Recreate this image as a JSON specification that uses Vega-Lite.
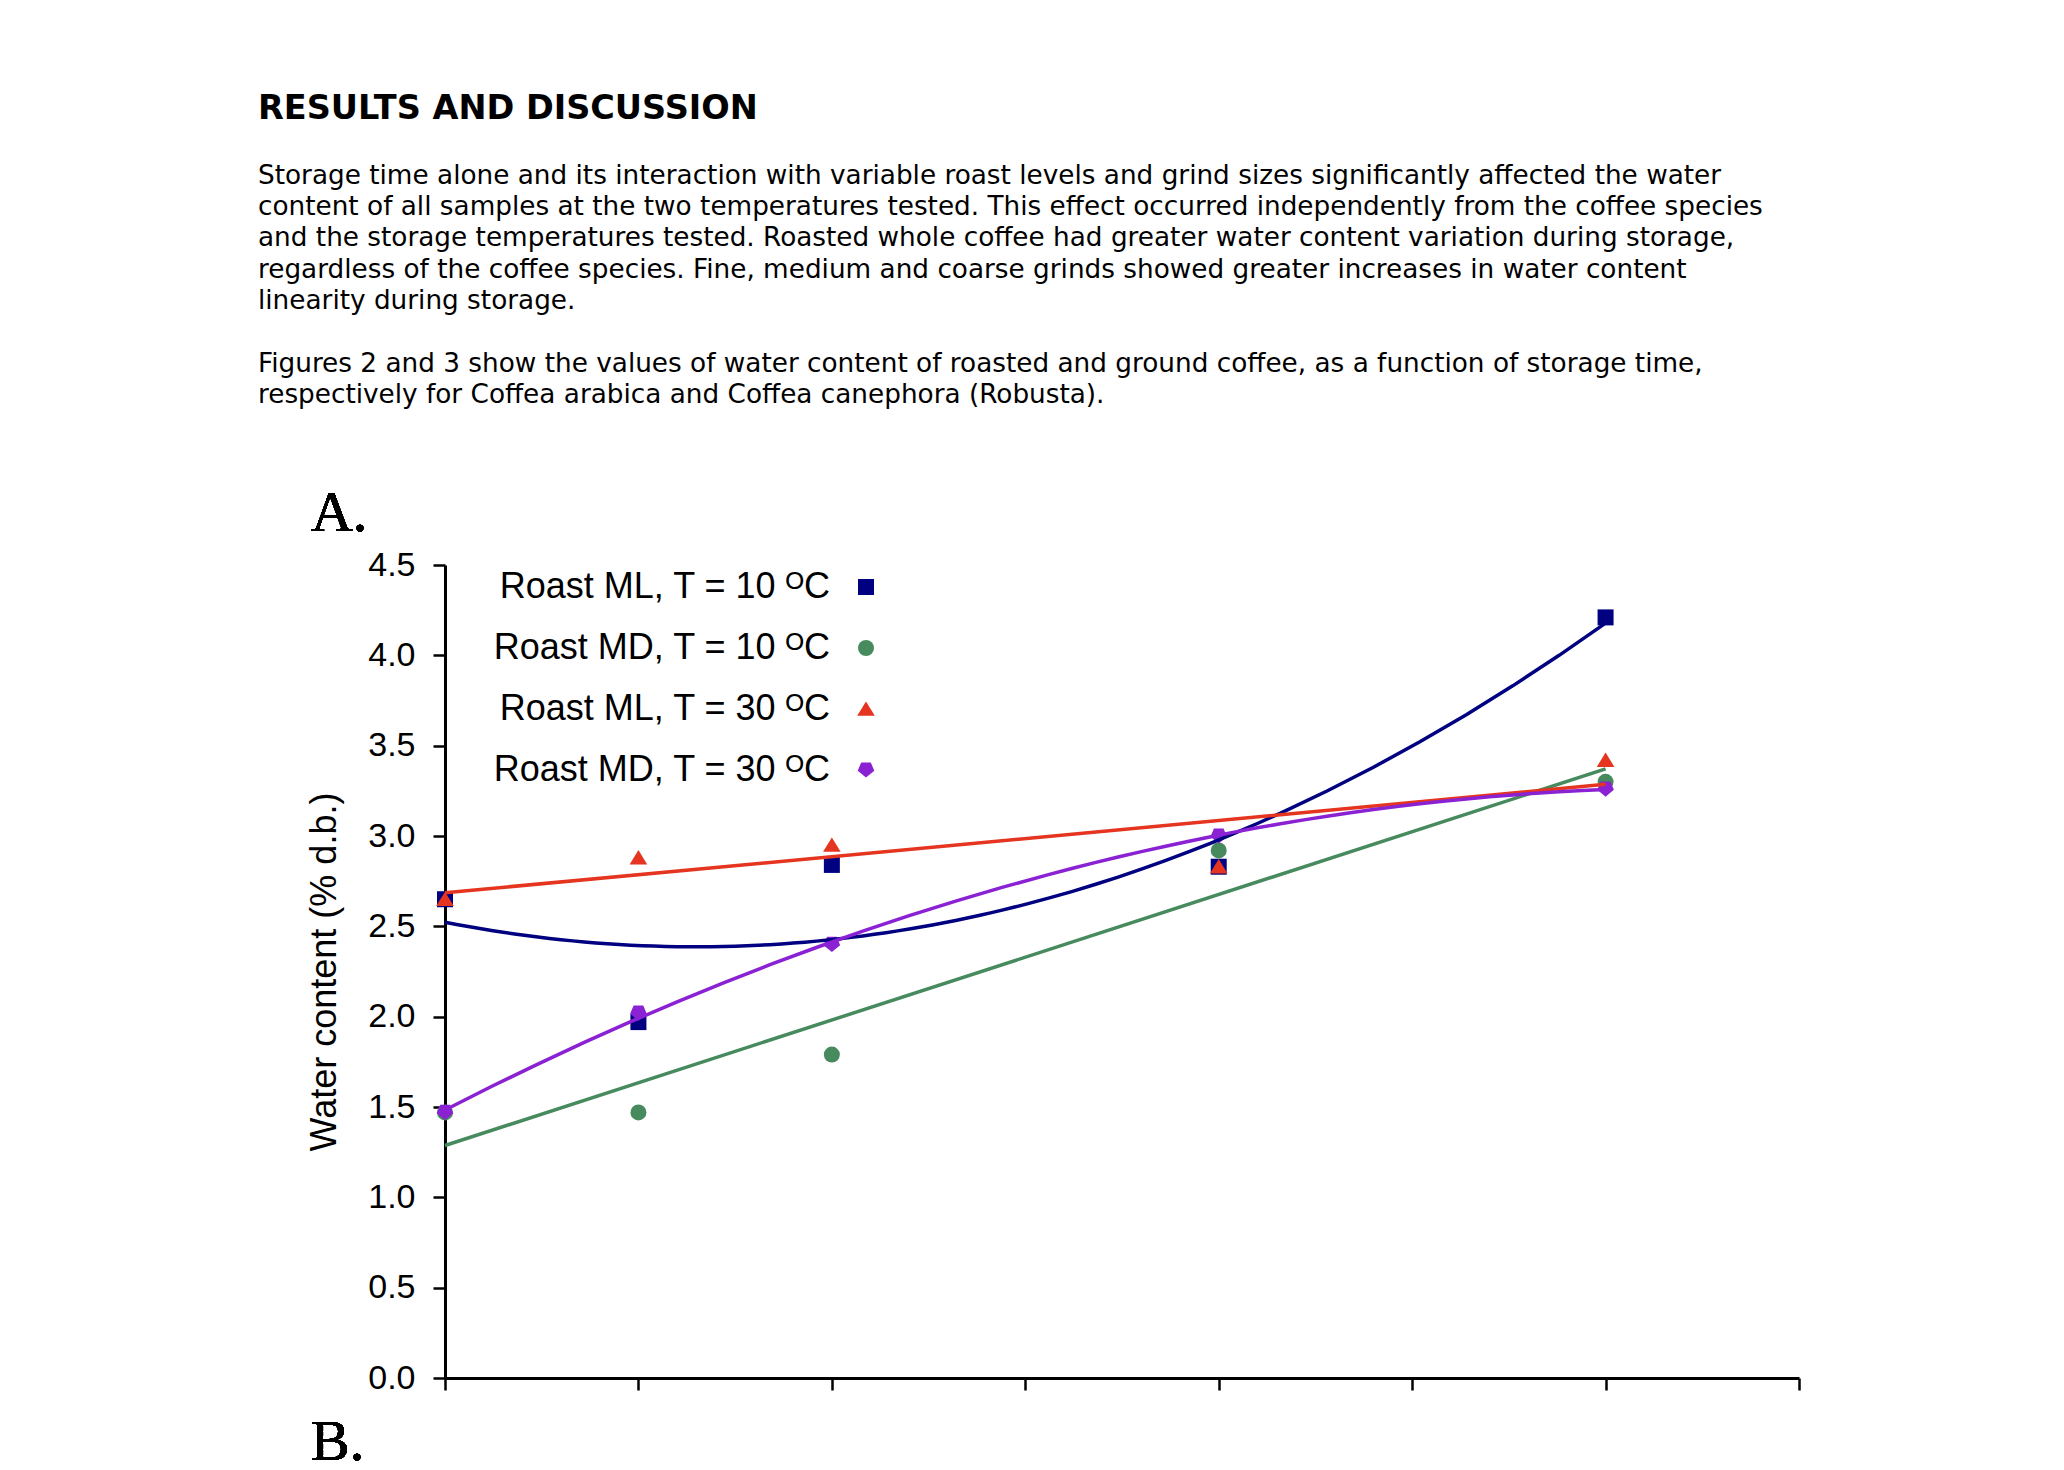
{
  "$schema": "https://vega.github.io/schema/vega-lite/v6.json",
  "autosize": {"type": "none"},
  "padding": {"left": 445, "top": 565, "right": 265, "bottom": 92},
  "width": 1354,
  "height": 813,
  "background": "white",
  "config": {
    "view": {"stroke": null},
    "font": "Liberation Sans"
  },
  "title": {
    "text": "RESULTS AND DISCUSSION",
    "subtitle": [
      "Storage time alone and its interaction with variable roast levels and grind sizes significantly affected the water",
      "content of all samples at the two temperatures tested. This effect occurred independently from the coffee species",
      "and the storage temperatures tested. Roasted whole coffee had greater water content variation during storage,",
      "regardless of the coffee species. Fine, medium and coarse grinds showed greater increases in water content",
      "linearity during storage.",
      "\u200b",
      "Figures 2 and 3 show the values of water content of roasted and ground coffee, as a function of storage time,",
      "respectively for Coffea arabica and Coffea canephora (Robusta)."
    ],
    "anchor": "start",
    "frame": "group",
    "dx": -187,
    "offset": 75,
    "font": "DejaVu Sans",
    "fontSize": 33.5,
    "fontWeight": "bold",
    "color": "black",
    "subtitleFont": "DejaVu Sans",
    "subtitleFontSize": 26.3,
    "subtitleColor": "black",
    "subtitleLineHeight": 31.4,
    "subtitlePadding": 36
  },
  "data": {
    "values": [
      {"t": 0, "w": 2.65, "s": "Roast ML, T = 10 ᴼC"},
      {"t": 1, "w": 1.97, "s": "Roast ML, T = 10 ᴼC"},
      {"t": 2, "w": 2.84, "s": "Roast ML, T = 10 ᴼC"},
      {"t": 4, "w": 2.83, "s": "Roast ML, T = 10 ᴼC"},
      {"t": 6, "w": 4.21, "s": "Roast ML, T = 10 ᴼC"},
      {"t": 0, "w": 1.47, "s": "Roast MD, T = 10 ᴼC"},
      {"t": 1, "w": 1.47, "s": "Roast MD, T = 10 ᴼC"},
      {"t": 2, "w": 1.79, "s": "Roast MD, T = 10 ᴼC"},
      {"t": 4, "w": 2.92, "s": "Roast MD, T = 10 ᴼC"},
      {"t": 6, "w": 3.30, "s": "Roast MD, T = 10 ᴼC"},
      {"t": 0, "w": 2.65, "s": "Roast ML, T = 30 ᴼC"},
      {"t": 1, "w": 2.88, "s": "Roast ML, T = 30 ᴼC"},
      {"t": 2, "w": 2.95, "s": "Roast ML, T = 30 ᴼC"},
      {"t": 4, "w": 2.83, "s": "Roast ML, T = 30 ᴼC"},
      {"t": 6, "w": 3.42, "s": "Roast ML, T = 30 ᴼC"},
      {"t": 0, "w": 1.47, "s": "Roast MD, T = 30 ᴼC"},
      {"t": 1, "w": 2.02, "s": "Roast MD, T = 30 ᴼC"},
      {"t": 2, "w": 2.40, "s": "Roast MD, T = 30 ᴼC"},
      {"t": 4, "w": 3.00, "s": "Roast MD, T = 30 ᴼC"},
      {"t": 6, "w": 3.26, "s": "Roast MD, T = 30 ᴼC"}
    ]
  },
  "encoding": {
    "x": {
      "field": "t", "type": "quantitative",
      "scale": {"domain": [0, 7], "nice": false, "zero": false},
      "axis": {
        "title": null, "labels": false, "grid": false,
        "values": [0, 1, 2, 3, 4, 5, 6, 7],
        "domainColor": "black", "domainWidth": 3,
        "tickColor": "black", "tickWidth": 2.5, "tickSize": 12
      }
    },
    "y": {
      "field": "w", "type": "quantitative",
      "scale": {"domain": [0, 4.5], "nice": false},
      "axis": {
        "title": "Water content (% d.b.)",
        "titleFont": "Liberation Sans", "titleFontSize": 36, "titleFontWeight": "normal",
        "titleColor": "black", "titlePadding": 24,
        "values": [0, 0.5, 1, 1.5, 2, 2.5, 3, 3.5, 4, 4.5],
        "format": ".1f", "grid": false,
        "labelFont": "Liberation Sans", "labelFontSize": 34, "labelColor": "black", "labelPadding": 18,
        "domainColor": "black", "domainWidth": 3,
        "tickColor": "black", "tickWidth": 2.5, "tickSize": 12
      }
    }
  },
  "layer": [
    {
      "mark": {"type": "point", "filled": true, "opacity": 1, "size": 256},
      "encoding": {
        "color": {
          "field": "s", "type": "nominal",
          "scale": {
            "domain": ["Roast ML, T = 10 ᴼC", "Roast MD, T = 10 ᴼC", "Roast ML, T = 30 ᴼC", "Roast MD, T = 30 ᴼC"],
            "range": ["#000080", "#468A5E", "#E5341F", "#8A22D4"]
          },
          "legend": {
            "title": null,
            "orient": "none",
            "legendX": 403,
            "legendY": 4,
            "labelFont": "Liberation Sans", "labelFontSize": 36, "labelColor": "black",
            "labelAlign": "right", "labelOffset": -54, "labelLimit": 600,
            "symbolSize": 256, "symbolStrokeWidth": 0,
            "rowPadding": 25
          }
        },
        "shape": {
          "field": "s", "type": "nominal",
          "scale": {
            "domain": ["Roast ML, T = 10 ᴼC", "Roast MD, T = 10 ᴼC", "Roast ML, T = 30 ᴼC", "Roast MD, T = 30 ᴼC"],
            "range": ["square", "circle", "M0,-0.95L1.1,0.85L-1.1,0.85Z", "M-0.6,-0.95L0.6,-0.95L1.04,0.1L0,0.95L-1.04,0.1Z"]
          }
        },
        "order": {"field": "t", "type": "quantitative"}
      }
    },
    {
      "transform": [
        {"filter": "datum.s === 'Roast ML, T = 10 ᴼC'"},
        {"regression": "w", "on": "t", "method": "poly", "order": 2, "extent": [0, 6]}
      ],
      "mark": {"type": "line", "color": "#000080", "strokeWidth": 3.5}
    },
    {
      "transform": [
        {"filter": "datum.s === 'Roast MD, T = 10 ᴼC'"},
        {"regression": "w", "on": "t", "method": "linear", "extent": [0, 6]}
      ],
      "mark": {"type": "line", "color": "#468A5E", "strokeWidth": 3.5}
    },
    {
      "transform": [
        {"filter": "datum.s === 'Roast ML, T = 30 ᴼC'"},
        {"regression": "w", "on": "t", "method": "linear", "extent": [0, 6]}
      ],
      "mark": {"type": "line", "color": "#E5341F", "strokeWidth": 3.5}
    },
    {
      "transform": [
        {"filter": "datum.s === 'Roast MD, T = 30 ᴼC'"},
        {"regression": "w", "on": "t", "method": "poly", "order": 2, "extent": [0, 6]}
      ],
      "mark": {"type": "line", "color": "#8A22D4", "strokeWidth": 3.5}
    },
    {
      "mark": {"type": "text", "font": "Liberation Serif", "fontSize": 58, "align": "left", "baseline": "alphabetic", "color": "black"},
      "encoding": {
        "x": {"datum": -0.693, "type": "quantitative"},
        "y": {"datum": 4.69, "type": "quantitative"},
        "text": {"value": "A."}
      }
    },
    {
      "mark": {"type": "text", "font": "Liberation Serif", "fontSize": 58, "align": "left", "baseline": "alphabetic", "color": "black"},
      "encoding": {
        "x": {"datum": -0.693, "type": "quantitative"},
        "y": {"datum": -0.454, "type": "quantitative"},
        "text": {"value": "B."}
      }
    }
  ]
}
